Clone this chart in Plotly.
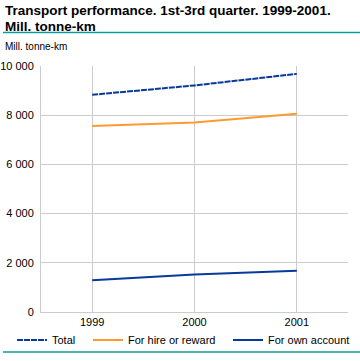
import plotly.graph_objects as go

years = [1999, 2000, 2001]
total = [8830, 9210, 9680]
hire = [7560, 7700, 8060]
own = [1290, 1520, 1680]
ytick_vals = [0, 2000, 4000, 6000, 8000, 10000]
ytick_text = ["0", "2 000", "4 000", "6 000", "8 000", "10 000"]
xtick_text = ["1999", "2000", "2001"]

blue = "#083a98"
orange = "#ff9933"
teal = "#109a9a"
font = "Liberation Sans"

fig = go.Figure()
fig.add_trace(go.Scatter(x=years, y=total, name="Total", mode="lines", legend="legend",
                         line=dict(color=blue, width=2, dash="6px,1px")))
fig.add_trace(go.Scatter(x=years, y=hire, name="For hire or reward", mode="lines", legend="legend2",
                         line=dict(color=orange, width=2)))
fig.add_trace(go.Scatter(x=years, y=own, name="For own account", mode="lines", legend="legend3",
                         line=dict(color=blue, width=2)))

leg_y = (361 - 340) / 361


def leg(x):
    return dict(orientation="h", xref="container", yref="container",
                x=x, xanchor="left", y=leg_y, yanchor="middle",
                font=dict(size=11), itemwidth=30, bgcolor="rgba(0,0,0,0)")


fig.update_layout(
    width=360, height=361,
    margin=dict(l=41, r=12, t=66, b=49, autoexpand=False),
    paper_bgcolor="white", plot_bgcolor="white",
    font=dict(family=font, size=11, color="black"),
    showlegend=True,
    legend=leg(12 / 360),
    legend2=leg(88 / 360),
    legend3=leg(228 / 360),
    xaxis=dict(range=[1998.5, 2001.5], tickvals=years, ticktext=xtick_text,
               showgrid=True, gridcolor="#cccccc", gridwidth=1,
               showline=True, linecolor="#cccccc", linewidth=1, automargin=False,
               zeroline=False, ticks="", tickfont=dict(size=11)),
    yaxis=dict(range=[0, 10000], tickvals=ytick_vals, ticktext=ytick_text,
               showgrid=True, gridcolor="#cccccc", gridwidth=1,
               showline=True, linecolor="#cccccc", linewidth=1, automargin=False,
               zeroline=False, ticks="", tickfont=dict(size=11), ticklabelstandoff=4),
    annotations=[
        dict(text="<b>Transport performance. 1st-3rd quarter. 1999-2001.</b>",
             xref="paper", yref="paper", x=-0.124, y=1.2276, xanchor="left", yanchor="middle",
             align="left", showarrow=False, font=dict(family=font, size=13.5)),
        dict(text="<b>Mill. tonne-km</b>",
             xref="paper", yref="paper", x=-0.124, y=1.1626, xanchor="left", yanchor="middle",
             align="left", showarrow=False, font=dict(family=font, size=13.5)),
        dict(text="Mill. tonne-km", xref="paper", yref="paper", x=-0.124, y=1.081,
             xanchor="left", yanchor="middle", showarrow=False, font=dict(family=font, size=10)),
    ],
    shapes=[
        dict(type="line", xref="paper", yref="paper", x0=-0.124, x1=1.04, y0=1.136, y1=1.136,
             line=dict(color=teal, width=1.5)),
        dict(type="line", xref="paper", yref="paper", x0=-0.124, x1=1.04, y0=-0.163, y1=-0.163,
             line=dict(color=teal, width=1.5)),
    ],
)

fig.write_html("out.html", config={"displayModeBar": False},
               post_script="document.body.style.margin='0';")
